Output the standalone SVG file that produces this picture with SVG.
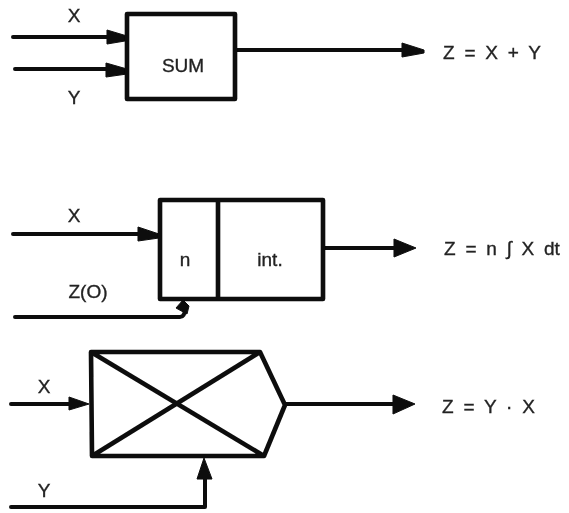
<svg xmlns="http://www.w3.org/2000/svg" width="569" height="513" viewBox="0 0 569 513">
<defs><filter id="soft" x="-5%" y="-5%" width="110%" height="110%"><feGaussianBlur stdDeviation="0.55"/></filter></defs>
<style>
.b{fill:none;stroke:#0d0d0d;stroke-width:4.6;stroke-linejoin:round}
.c{fill:none;stroke:#0d0d0d;stroke-width:4;stroke-linecap:round;stroke-linejoin:round}
.a{fill:#0d0d0d;stroke:#0d0d0d;stroke-width:1;stroke-linejoin:round}
text{font-family:"Liberation Sans",Arial,sans-serif;font-size:19px;fill:#222;stroke:#222;stroke-width:.35;text-anchor:middle}
.eq{text-anchor:start;word-spacing:4.5px}
g{filter:url(#soft)}
</style>
<rect width="569" height="513" fill="#fff"/>
<g id="connectors">
<path class="c" d="M13 37H110M15 69H110M236 50H405"/>
<polygon class="a" points="107,30 127,36 125,41 107,44"/>
<polygon class="a" points="106,63 127,69 127,74 106,77"/>
<polygon class="a" points="402,43 424,50 424,53 402,57"/>
<path class="c" d="M13 234H140M15 317H180Q185 317 185 308M325 248H400"/>
<polygon class="a" points="138,227 159,234 159,238 138,241"/>
<polygon class="a" points="176,308 183,300 189,306 187,314"/>
<polygon class="a" points="394,239 416,248 394,257"/>
<path class="c" d="M11 404H72M286 404H400M11 507H205V475"/>
<polygon class="a" points="69,397 89,404 69,410"/>
<polygon class="a" points="197,479 204,458 212,479"/>
<polygon class="a" points="393,395 415,404 393,414"/>
</g>
<g id="sum"><rect class="b" x="127" y="14" width="108" height="85"/><text x="183" y="72">SUM</text></g>
<g id="integrator"><rect class="b" x="160" y="200" width="163" height="99"/><path class="b" d="M218 200V299"/><text x="185" y="266">n</text><text x="270" y="266">int.</text></g>
<g id="multiplier"><path class="b" d="M91 352H260L285 405L264 456H92ZM91 352L264 456M92 456L260 352"/></g>
<g id="labels">
<text x="74" y="22">X</text><text x="74" y="104">Y</text>
<text class="eq" x="443" y="59">Z = X + Y</text>
<text x="74" y="222">X</text><text x="88" y="298">Z(O)</text>
<text class="eq" x="444" y="255">Z = n ∫ X dt</text>
<text x="44" y="393">X</text><text x="44" y="497">Y</text>
<text class="eq" x="442" y="413">Z = Y · X</text>
</g>
</svg>
